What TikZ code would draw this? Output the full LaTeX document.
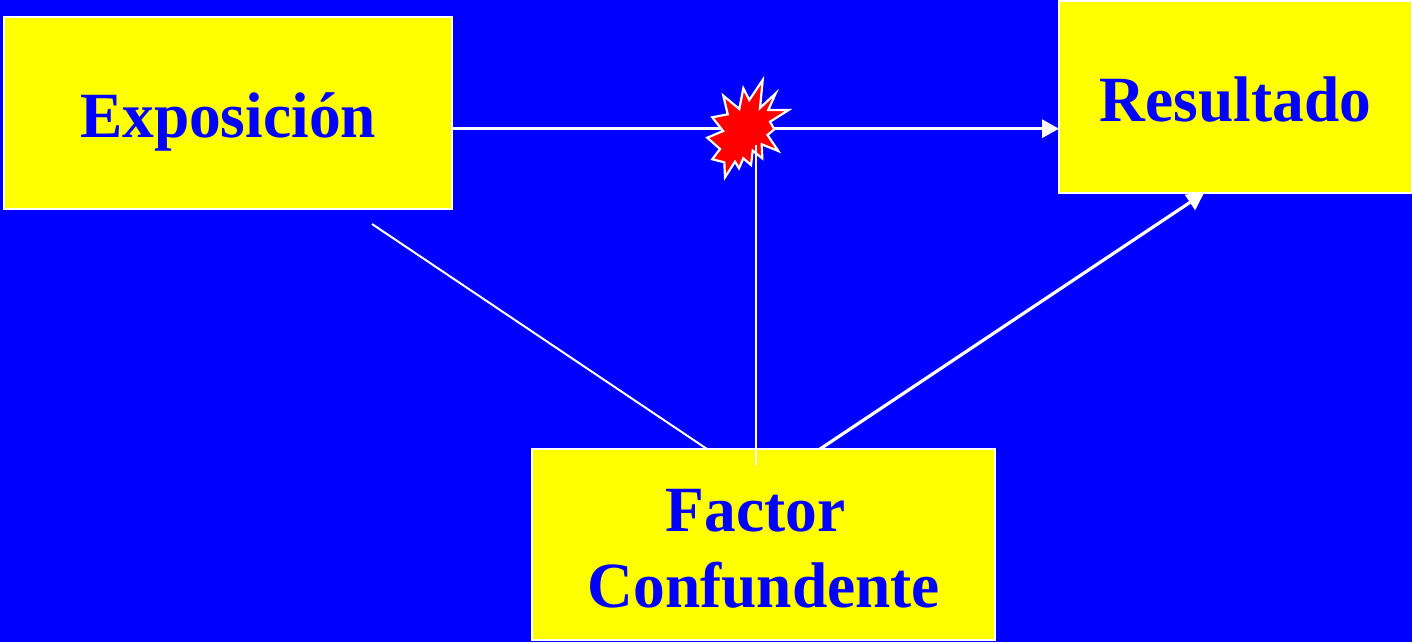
\documentclass[tikz,border=0pt]{standalone}
\usepackage{fontspec}
\setmainfont[FakeStretch=0.983]{Liberation Serif}
\usetikzlibrary{arrows.meta}
\definecolor{bgblue}{RGB}{0,0,255}
\definecolor{boxyellow}{RGB}{255,255,0}
\definecolor{burst}{RGB}{255,0,0}
\tikzset{
  boxnode/.style={draw=white,line width=2pt,fill=boxyellow,inner sep=0pt,outer sep=0pt,anchor=north west},
  boxtext/.style={text=bgblue,font=\fontsize{64.5}{70}\selectfont\bfseries,anchor=base,inner sep=0pt},
  thick link/.style={draw=white,line width=3.2pt},
  thin link/.style={draw=white,line width=2pt},
  head/.style={-{Triangle[length=17pt,width=18pt]}}
}
\begin{document}
\begin{tikzpicture}[x=1pt,y=-1pt]
\useasboundingbox (0,0) rectangle (1412,642);
\fill[bgblue] (0,0) rectangle (1412,642);
% boxes
\node[boxnode,minimum width=448pt,minimum height=191.5pt] (expo) at (4,17) {};
\node[boxnode,minimum width=353pt,minimum height=191.5pt] (resu) at (1059,1) {};
\node[boxnode,minimum width=463pt,minimum height=191.5pt] (fact) at (532,448.5) {};
% free ends
\coordinate (expoOut) at (expo.east |- 0,128.7);
\coordinate (resuIn) at (resu.west |- 0,128.7);
\coordinate (expoBelow) at (372,224);
\coordinate (factLeft) at (707,449);
\coordinate (factRight) at (820,449);
\coordinate (resuBelow) at (1204,193);
\coordinate (factInner) at (755.5,465);
\coordinate (burstIn) at (755.5,145);
% connectors
\draw[thick link,head] (expoOut) -- (resuIn);
\draw[thin link] (expoBelow) -- (factLeft);
\draw[thick link,head] (factRight) -- (resuBelow);
% burst
\draw[white,line width=2.2pt,fill=burst,line join=miter,miter limit=10]
 (762.7,80) -- (760,108) -- (775.7,93.3) -- (768.3,110) -- (788.7,110) -- (770,121.7)
 -- (774.3,129.3) -- (767.5,135) -- (778.3,151) -- (761.7,144.3) -- (762.3,158.3)
 -- (752.7,150.7) -- (751,165) -- (743.3,158.3) -- (739,168.3) -- (735,161.7)
 -- (725,177.3) -- (724.3,162.3) -- (712.3,159.3) -- (720,149) -- (707.3,137.7)
 -- (723,131) -- (712.3,117.3) -- (727.7,114.3) -- (723.3,95.7) -- (739.3,109)
 -- (743.3,88.3) -- (749.3,100) -- cycle;
\draw[thin link] (burstIn) -- (factInner);
% text
\node[boxtext] (expoT) at (228,137.5) {Exposición};
\node[boxtext] (resuT) at (1235.5,121.5) {Resultado};
\node[boxtext] (factT) at (755.5,531) {Factor};
\node[boxtext] (confT) at (764,607) {Confundente};
\end{tikzpicture}
\end{document}
